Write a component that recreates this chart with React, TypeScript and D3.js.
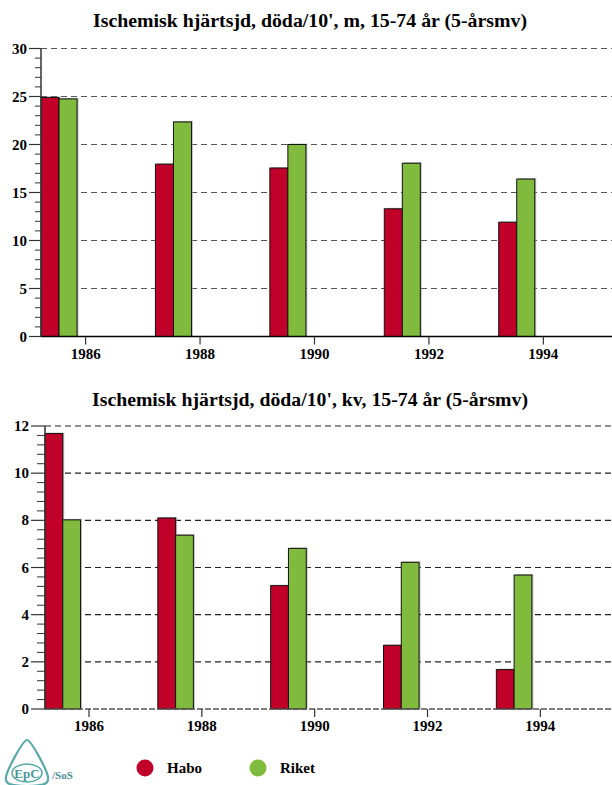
import React from 'react';
import * as d3 from 'd3';

const years = [1986, 1988, 1990, 1992, 1994];
const series = ['Habo', 'Riket'];
const haboMen = [24.9, 17.95, 17.55, 13.3, 11.9];
const riketMen = [24.75, 22.35, 20.0, 18.05, 16.4];
const haboWomen = [11.68, 8.1, 5.23, 2.7, 1.67];
const riketWomen = [8.02, 7.37, 6.81, 6.22, 5.68];
const menTicks = [0, 5, 10, 15, 20, 25, 30];
const womenTicks = [0, 2, 4, 6, 8, 10, 12];

const COLORS: Record<string, string> = { Habo: '#c10029', Riket: '#80bb3e' };
const FONT = '"Liberation Serif", "Times New Roman", serif';

interface ChartProps {
  title: string;
  titleY: number;
  titleLen: number;
  left: number;
  top: number;
  bottom: number;
  yMax: number;
  yTicks: number[];
  minorStep: number;
  yearEnd: number;
  values: number[][];
  majorLen: number;
  minorLen: number;
  gridColor: string;
  zeroDashed: boolean;
}

function Chart(p: ChartProps) {
  const x = d3.scaleLinear().domain([1985.22, p.yearEnd]).range([p.left, 612]);
  const y = d3.scaleLinear().domain([0, p.yMax]).range([p.bottom, p.top]);
  const inner = d3.scaleBand().domain(series).range([0, x(1986 - 0.15) - x(1986 - 0.78)]);
  const minor = d3.range(0, p.yMax + 0.001, p.minorStep).filter(v => !p.yTicks.some(t => Math.abs(t - v) < 1e-6));

  return (
    <g fontFamily={FONT}>
      <text x={310} y={p.titleY} textAnchor="middle" fontSize={18} fontWeight="bold" fill="#000"
        textLength={p.titleLen} lengthAdjust="spacingAndGlyphs">{p.title}</text>

      {/* grid */}
      {p.yTicks.filter(t => t > 0).map(t => (
        <line key={t} x1={p.left} x2={612} y1={y(t)} y2={y(t)} stroke={p.gridColor} strokeWidth={1.2} strokeDasharray="6,4" />
      ))}

      {/* bars */}
      {years.map((yr, i) => {
        const gx = x(yr - 0.78);
        return series.map((s, j) => {
          const v = p.values[j][i];
          const bx = gx + (inner(s) || 0);
          const by = y(v);
          return (
            <g key={`${yr}-${s}`}>
              <rect x={bx + 1.5} y={by - 1} width={inner.bandwidth()} height={p.bottom - by + 1} fill="#999" opacity={0.6} />
              <rect x={bx} y={by} width={inner.bandwidth()} height={p.bottom - by} fill={COLORS[s]} stroke="#111" strokeWidth={1} />
            </g>
          );
        });
      })}

      {/* x axis */}
      {p.zeroDashed ? (
        <line x1={p.left} x2={612} y1={p.bottom} y2={p.bottom} stroke="#555" strokeWidth={1.5} strokeDasharray="6,2" />
      ) : (
        <line x1={p.left} x2={612} y1={p.bottom} y2={p.bottom} stroke="#000" strokeWidth={1.5} />
      )}
      {years.map(t => (
        <g key={t}>
          <line x1={x(t)} x2={x(t)} y1={p.bottom} y2={p.bottom + 8} stroke="#333" strokeWidth={1.2} />
          <text x={x(t)} y={p.bottom + 22} textAnchor="middle" fontSize={15} fontWeight="bold">{t}</text>
        </g>
      ))}

      {/* y axis */}
      <line x1={p.left} x2={p.left} y1={p.top} y2={p.bottom} stroke="#333" strokeWidth={1.5} />
      {minor.map(t => (
        <line key={`m${t}`} x1={p.left - p.minorLen} x2={p.left} y1={y(t)} y2={y(t)} stroke="#333" strokeWidth={1} />
      ))}
      {p.yTicks.map(t => (
        <g key={`t${t}`}>
          <line x1={p.left - p.majorLen} x2={p.left} y1={y(t)} y2={y(t)} stroke="#333" strokeWidth={1.2} />
          <text x={p.left - p.majorLen - 2} y={y(t) + 5} textAnchor="end" fontSize={15} fontWeight="bold">{t}</text>
        </g>
      ))}
    </g>
  );
}

export default function App() {
  return (
    <svg width={612} height={785} style={{ position: 'absolute', left: 0, top: 0, background: '#fff' }}>
      <rect width={612} height={785} fill="#fff" />
      <Chart
        title="Ischemisk hjärtsjd, döda/10', m, 15-74 år (5-årsmv)"
        titleY={27}
        titleLen={434}
        left={41}
        top={48.5}
        bottom={336.5}
        yMax={30}
        yTicks={menTicks}
        minorStep={1}
        yearEnd={1995.2}
        values={[haboMen, riketMen]}
        majorLen={12}
        minorLen={6}
        gridColor="#555"
        zeroDashed={false}
      />
      <Chart
        title="Ischemisk hjärtsjd, döda/10', kv, 15-74 år (5-årsmv)"
        titleY={406}
        titleLen={436}
        left={45}
        top={426}
        bottom={709}
        yMax={12}
        yTicks={womenTicks}
        minorStep={0.4}
        yearEnd={1995.27}
        values={[haboWomen, riketWomen]}
        majorLen={14}
        minorLen={8}
        gridColor="#222"
        zeroDashed={true}
      />

      {/* legend */}
      <g fontFamily={FONT} fontWeight="bold" fontSize={15}>
        <circle cx={145} cy={768} r={8.5} fill={COLORS.Habo} />
        <text x={167} y={773}>Habo</text>
        <circle cx={258} cy={768} r={8.5} fill={COLORS.Riket} />
        <text x={280} y={773}>Riket</text>
      </g>

      {/* logo */}
      <g fontFamily={FONT}>
        <path d="M27,740 C31,740 47,770 48,777 C49,784 44,786 27,786 C10,786 5,784 6,777 C7,770 23,740 27,740 Z"
          fill="none" stroke="#5aa9a8" strokeWidth={2.2} />
        <ellipse cx={27} cy={773} rx={15} ry={9} fill="none" stroke="#5aa9a8" strokeWidth={1.6} />
        <text x={27} y={778} textAnchor="middle" fontSize={13} fill="#4b9a9a" fontWeight="bold">EpC</text>
        <text x={52} y={779} fontSize={11} fontWeight="bold" fill="#4a8c94">/SoS</text>
      </g>
    </svg>
  );
}
